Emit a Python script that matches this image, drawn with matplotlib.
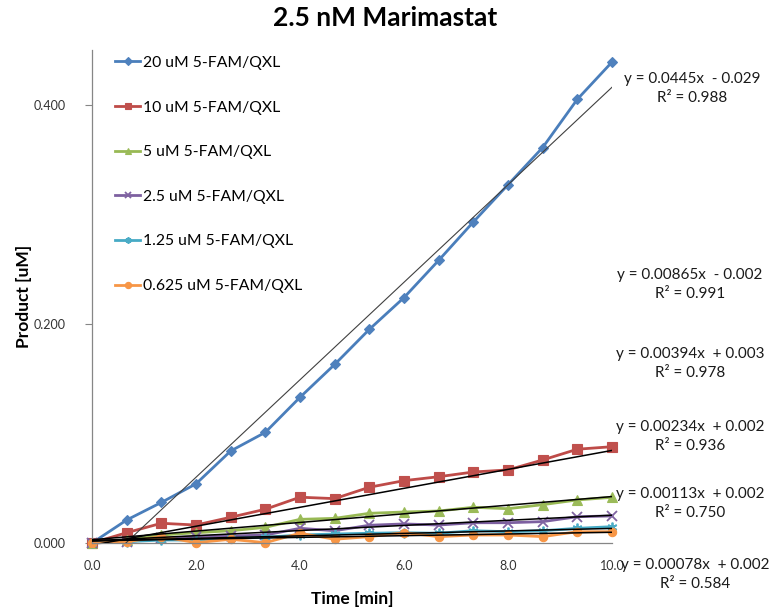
import matplotlib
matplotlib.use("Agg")
import matplotlib.pyplot as plt
import numpy as np

plt.rcParams['font.family'] = ['Lato', 'DejaVu Sans']

# Sampling times (min)
time_min = [0.0, 0.667, 1.333, 2.0, 2.667, 3.333, 4.0, 4.667, 5.333, 6.0,
            6.667, 7.333, 8.0, 8.667, 9.333, 10.0]

series_names = ["20 uM 5-FAM/QXL", "10 uM 5-FAM/QXL", "5 uM 5-FAM/QXL",
                "2.5 uM 5-FAM/QXL", "1.25 uM 5-FAM/QXL", "0.625 uM 5-FAM/QXL"]

# Product formed (uM)
p_20 = [0.000, 0.021, 0.037, 0.054, 0.084, 0.101, 0.133, 0.163, 0.195, 0.224,
        0.258, 0.293, 0.327, 0.361, 0.405, 0.439]
p_10 = [0.000, 0.0094, 0.0180, 0.0164, 0.0235, 0.0308, 0.0418, 0.0405, 0.0509,
        0.0569, 0.0605, 0.0648, 0.0667, 0.0758, 0.0856, 0.0879]
p_5 = [0.000, 0.0027, 0.0073, 0.0094, 0.0112, 0.0143, 0.0216, 0.0225, 0.0271,
       0.0283, 0.0292, 0.0326, 0.0313, 0.0350, 0.0393, 0.0417]
p_2_5 = [0.000, 0.0012, 0.0043, 0.0058, 0.0064, 0.0073, 0.0134, 0.0112, 0.0162,
         0.0174, 0.0164, 0.0185, 0.0185, 0.0195, 0.0240, 0.0247]
p_1_25 = [0.000, 0.0012, 0.0027, 0.0027, 0.0043, 0.0052, 0.0073, 0.0082, 0.0089,
          0.0094, 0.0089, 0.0112, 0.0103, 0.0112, 0.0134, 0.0149]
p_0_625 = [0.000, 0.0012, 0.0058, 0.0003, 0.0034, 0.0003, 0.0089, 0.0034, 0.0058,
           0.0094, 0.0058, 0.0073, 0.0073, 0.0058, 0.0103, 0.0103]

# Linear trendline parameters and fit quality
fit_slopes = [0.0445, 0.00865, 0.00394, 0.00234, 0.00113, 0.00078]
fit_intercepts = [-0.029, -0.002, 0.003, 0.002, 0.002, 0.002]
fit_r2 = [0.988, 0.991, 0.978, 0.936, 0.750, 0.584]

x_ticks = [0, 2, 4, 6, 8, 10]
y_ticks = [0.0, 0.2, 0.4]

all_series = [p_20, p_10, p_5, p_2_5, p_1_25, p_0_625]
line_colors = ["#4A7EBB", "#BE4B48", "#98B954", "#7D60A0", "#46AAC5", "#F79646"]
marker_colors = ["#4F81BD", "#C0504D", "#9BBB59", "#8064A2", "#4BACC6", "#F79646"]
markers = ["D", "s", "^", "x", (6, 2, 0), "o"]
marker_sizes = [5.5, 7, 6.5, 7, 7, 6]

# equation label anchor points (figure pixels, from top-left)
label_xy = [(692, 88.5), (690, 284.5), (690, 363.5), (690, 436.5),
            (690, 503.5), (695, 574.5)]

W, H = 780, 615
fig = plt.figure(figsize=(W / 100, H / 100), dpi=100)
ax = fig.add_axes([92 / W, 1 - 543 / H, (612 - 92) / W, (543 - 50) / H])

for vals, name, lc, mc, mk, ms in zip(all_series, series_names, line_colors,
                                      marker_colors, markers, marker_sizes):
    hollow = mk in ("x",) or isinstance(mk, tuple)
    ax.plot(time_min, vals, color=lc, lw=2.0, marker=mk, ms=ms,
            markerfacecolor=mc, markeredgecolor=mc,
            markeredgewidth=1.3 if hollow else 0.8,
            label=name, zorder=2, clip_on=False)

# trendlines over the sampled range
xt = np.array([time_min[0], time_min[-1]])
for i, (m, b) in enumerate(zip(fit_slopes, fit_intercepts)):
    if i == 0:
        ax.plot(xt, m * xt + b, color="#404040", lw=0.8, zorder=3)
    else:
        ax.plot(xt, m * xt + b, color="black", lw=1.1, zorder=3)

for (px, py), m, b, r2 in zip(label_xy, fit_slopes, fit_intercepts, fit_r2):
    sign = "-" if b < 0 else "+"
    txt = f"y = {m:g}x  {sign} {abs(b):.3f}\nR\u00b2 = {r2:.3f}"
    fig.text(px / W, 1 - py / H, txt, ha="center", va="center",
             fontsize=11, linespacing=1.45, color="#1a1a1a", zorder=5)

ax.set_xlim(0, 10)
ax.set_ylim(0, 0.45)
ax.set_xticks(x_ticks)
ax.set_xticklabels([f"{v:.1f}" for v in x_ticks])
ax.set_yticks(y_ticks)
ax.set_yticklabels([f"{v:.3f}" for v in y_ticks])
ax.tick_params(axis="x", length=0, pad=12, labelsize=9, labelcolor="#333333")
ax.tick_params(axis="y", length=5, width=0.8, color="#868686", pad=14,
               labelsize=9, labelcolor="#333333")

for s in ("top", "right"):
    ax.spines[s].set_visible(False)
for s in ("left", "bottom"):
    ax.spines[s].set_color("#868686")
    ax.spines[s].set_linewidth(0.9)

ax.set_xlabel("Time [min]", fontsize=12.5, fontweight="bold", labelpad=14)
ax.set_ylabel("Product [uM]", fontsize=12.5, fontweight="bold", labelpad=1)
fig.text(385 / W, 1 - 18 / H, "2.5 nM Marimastat", ha="center", va="center",
         fontsize=19, fontweight="bold")

leg = ax.legend(loc="upper left", bbox_to_anchor=(104 / W, 1 - 45 / H),
                bbox_transform=fig.transFigure, frameon=False, fontsize=11.3,
                handlelength=1.6, handletextpad=0.2, labelspacing=1.95,
                borderpad=0.2)
for h in leg.legend_handles:
    h.set_markersize(4.5)

fig.savefig("out.png", dpi=100)
